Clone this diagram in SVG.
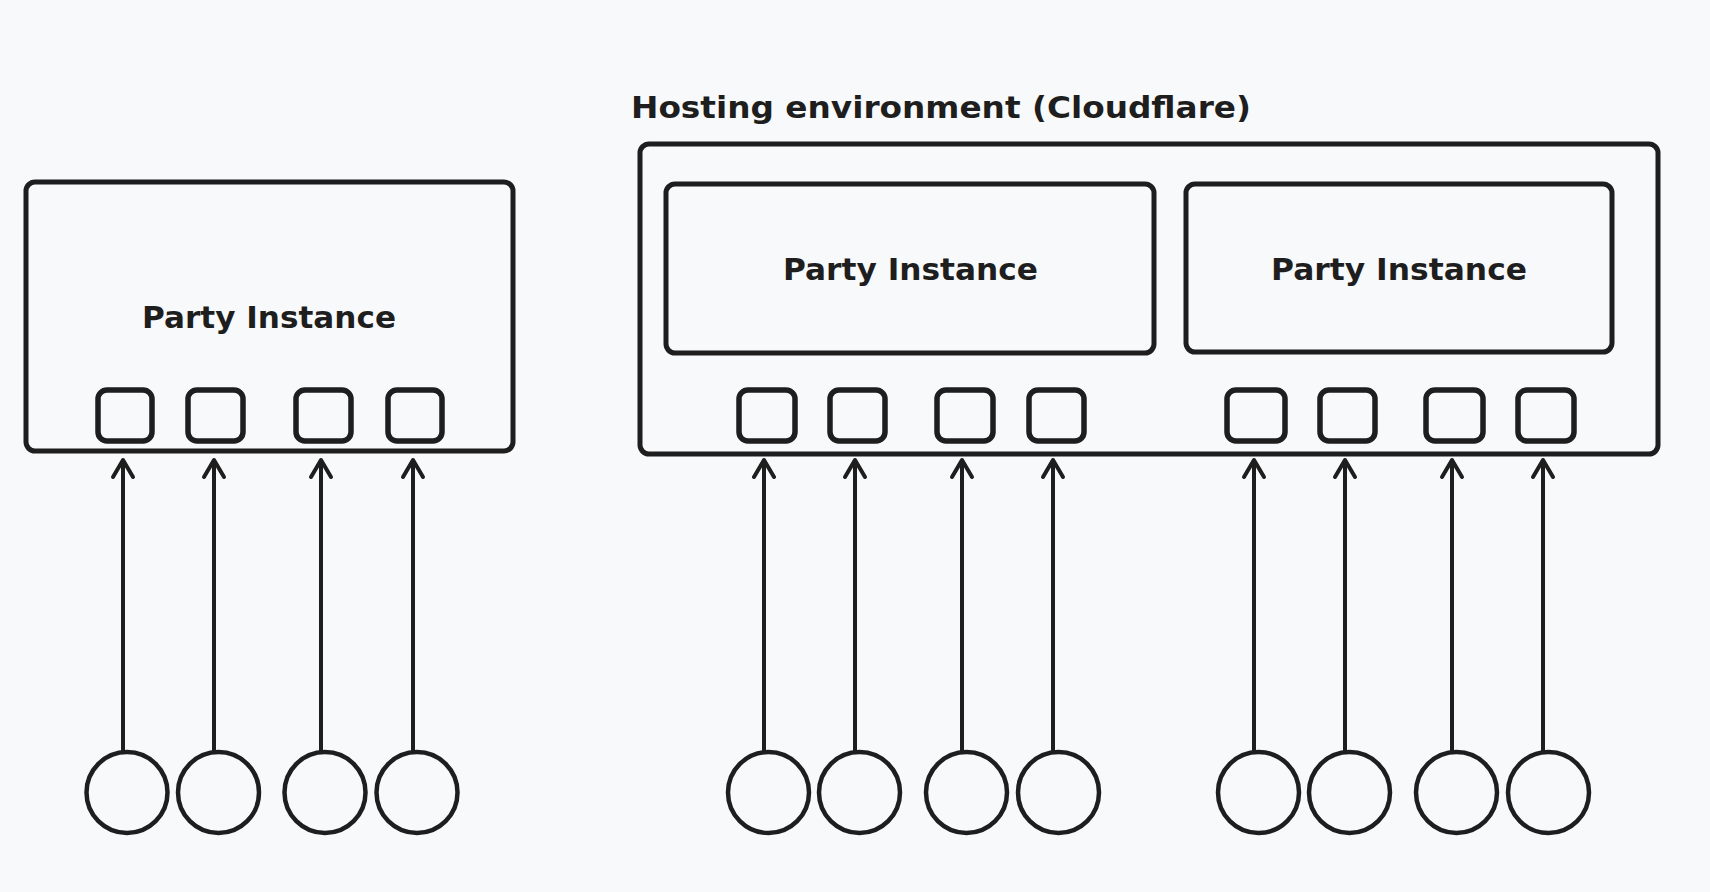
<svg xmlns="http://www.w3.org/2000/svg" width="1710" height="892" viewBox="0 0 1710 892">
  <defs>
    <style>
      .box { fill: none; stroke: #1e1e1e; stroke-width: 5; }
      .port { fill: none; stroke: #1e1e1e; stroke-width: 5.5; }
      .client { fill: none; stroke: #1e1e1e; stroke-width: 4.5; }
      .conn { fill: none; stroke: #1e1e1e; stroke-width: 4; marker-end: url(#arrow); }
      .label { font-family: "DejaVu Sans", "Liberation Sans", sans-serif; font-size: 31px; font-weight: bold; fill: #1e1e1e; }
    </style>
    <marker id="arrow" markerUnits="userSpaceOnUse" markerWidth="40" markerHeight="40" refX="0" refY="0" viewBox="-20 -20 40 40" orient="auto" overflow="visible">
      <path d="M-17,-10 L0,0 L-17,10" fill="none" stroke="#1e1e1e" stroke-width="4" stroke-linecap="round" stroke-linejoin="round"/>
    </marker>
  </defs>
  <rect width="1710" height="892" fill="#f8f9fa"/>

  <!-- Left standalone party instance -->
  <g id="party-left">
    <rect class="box" x="26" y="182" width="487" height="269" rx="9"/>
    <text class="label" x="142" y="328" textLength="254" lengthAdjust="spacingAndGlyphs">Party Instance</text>
  </g>
  <g id="ports-left">
    <rect class="port" x="98" y="390" width="54" height="51" rx="9"/>
    <rect class="port" x="188" y="390" width="55" height="51" rx="9"/>
    <rect class="port" x="296" y="390" width="55" height="51" rx="9"/>
    <rect class="port" x="388" y="390" width="54" height="51" rx="9"/>
  </g>

  <!-- Hosting environment -->
  <g id="hosting-env">
    <text class="label" x="631" y="118" textLength="620" lengthAdjust="spacingAndGlyphs">Hosting environment (Cloudflare)</text>
    <rect class="box" x="640" y="144" width="1018" height="310" rx="9"/>
  </g>
  <g id="party-cf-1">
    <rect class="box" x="666" y="184" width="488" height="169" rx="9"/>
    <text class="label" x="783" y="280" textLength="255" lengthAdjust="spacingAndGlyphs">Party Instance</text>
  </g>
  <g id="party-cf-2">
    <rect class="box" x="1186" y="184" width="426" height="168" rx="9"/>
    <text class="label" x="1271" y="280" textLength="256" lengthAdjust="spacingAndGlyphs">Party Instance</text>
  </g>
  <g id="ports-cf-1">
    <rect class="port" x="739" y="390" width="56" height="51" rx="9"/>
    <rect class="port" x="830" y="390" width="55" height="51" rx="9"/>
    <rect class="port" x="937" y="390" width="56" height="51" rx="9"/>
    <rect class="port" x="1029" y="390" width="55" height="51" rx="9"/>
  </g>
  <g id="ports-cf-2">
    <rect class="port" x="1227" y="390" width="58" height="51" rx="9"/>
    <rect class="port" x="1320" y="390" width="55" height="51" rx="9"/>
    <rect class="port" x="1426" y="390" width="57" height="51" rx="9"/>
    <rect class="port" x="1518" y="390" width="56" height="51" rx="9"/>
  </g>

  <!-- Clients -->
  <g id="clients-left">
    <circle class="client" cx="127" cy="792.5" r="40.5"/>
    <circle class="client" cx="218.5" cy="792.5" r="40.5"/>
    <circle class="client" cx="325" cy="792.5" r="40.5"/>
    <circle class="client" cx="417" cy="792.5" r="40.5"/>
  </g>
  <g id="clients-cf-1">
    <circle class="client" cx="768.5" cy="792.5" r="40.5"/>
    <circle class="client" cx="859.5" cy="792.5" r="40.5"/>
    <circle class="client" cx="966.5" cy="792.5" r="40.5"/>
    <circle class="client" cx="1058.5" cy="792.5" r="40.5"/>
  </g>
  <g id="clients-cf-2">
    <circle class="client" cx="1258.5" cy="792.5" r="40.5"/>
    <circle class="client" cx="1349.5" cy="792.5" r="40.5"/>
    <circle class="client" cx="1456.5" cy="792.5" r="40.5"/>
    <circle class="client" cx="1548.5" cy="792.5" r="40.5"/>
  </g>

  <!-- Connectors -->
  <g id="connectors">
    <line class="conn" x1="123" y1="752" x2="123" y2="460"/>
    <line class="conn" x1="214" y1="752" x2="214" y2="460"/>
    <line class="conn" x1="321" y1="752" x2="321" y2="460"/>
    <line class="conn" x1="413" y1="752" x2="413" y2="460"/>
    <line class="conn" x1="764" y1="752" x2="764" y2="460"/>
    <line class="conn" x1="855" y1="752" x2="855" y2="460"/>
    <line class="conn" x1="962" y1="752" x2="962" y2="460"/>
    <line class="conn" x1="1053" y1="752" x2="1053" y2="460"/>
    <line class="conn" x1="1254" y1="752" x2="1254" y2="460"/>
    <line class="conn" x1="1345" y1="752" x2="1345" y2="460"/>
    <line class="conn" x1="1452" y1="752" x2="1452" y2="460"/>
    <line class="conn" x1="1543" y1="752" x2="1543" y2="460"/>
  </g>
</svg>
